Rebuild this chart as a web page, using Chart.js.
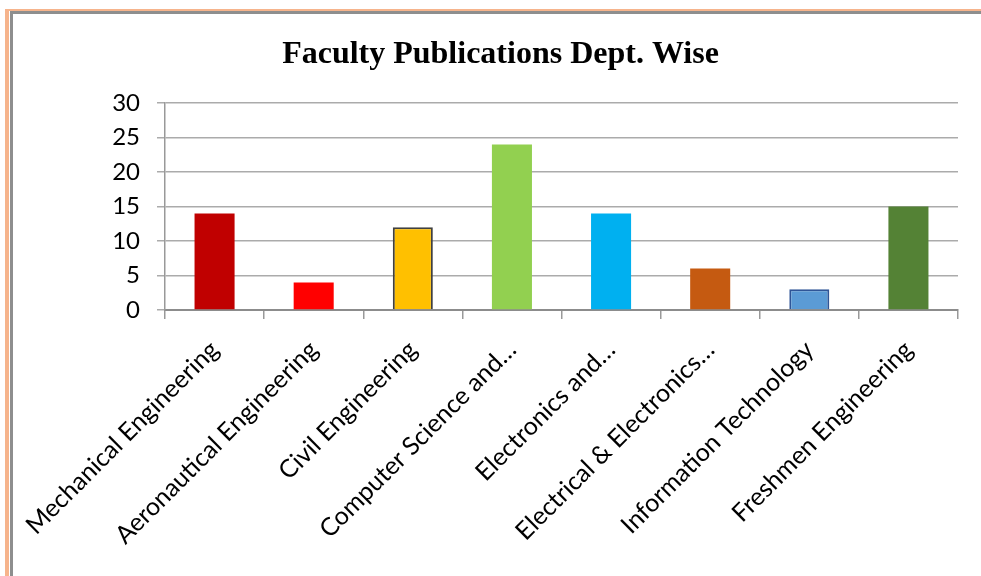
<!DOCTYPE html>
<html>
<head>
<meta charset="utf-8">
<script src="https://cdn.jsdelivr.net/npm/chart.js@4"></script>
<style>
  html, body { margin: 0; padding: 0; background: #fff; overflow: hidden; }
  #wrap { position: absolute; left: 0; top: 0; width: 981px; height: 576px; }
  #outer { position: absolute; left: 5px; top: 9px; width: 1100px; height: 700px; border-top: 2px solid #F6B48C; border-left: 4px solid #F6B48C; }
  #inner { position: absolute; left: 10px; top: 11px; width: 1100px; height: 700px; border-top: 3px solid #8E8E8E; border-left: 3px solid #8E8E8E; }
  canvas { position: absolute; left: 0; top: 0; }
</style>
</head>
<body>
<div id="wrap">
  <div id="outer"></div>
  <div id="inner"></div>
  <canvas id="c" width="981" height="576"></canvas>
</div>
<script>
const chartTitle = "Faculty Publications Dept. Wise";
const categories = [
  "Mechanical Engineering",
  "Aeronautical Engineering",
  "Civil Engineering",
  "Computer Science and…",
  "Electronics and…",
  "Electrical & Electronics…",
  "Information Technology",
  "Freshmen Engineering"
];
const publications = [14, 4, 12, 24, 14, 6, 3, 15];
const barColors = ["#C00000", "#FF0000", "#FFC000", "#92D050", "#00B0F0", "#C55A11", "#5B9BD5", "#548235"];
const barBorderColors = ["#C00000", "#FF0000", "#404040", "#92D050", "#00B0F0", "#C55A11", "#2F5597", "#548235"];
const barBorderWidths = [0, 0, 2, 0, 0, 0, 2, 0];
const yTicks = { min: 0, max: 30, step: 5 };

Chart.defaults.animation = false;

new Chart(document.getElementById('c'), {
  type: 'bar',
  data: {
    labels: categories,
    datasets: [{
      data: publications,
      backgroundColor: barColors,
      borderColor: barBorderColors,
      borderWidth: barBorderWidths,
      borderSkipped: 'start',
      categoryPercentage: 1,
      barPercentage: 0.404
    }]
  },
  options: {
    responsive: false,
    animation: false,
    layout: { padding: { left: 43, right: 23, top: 0, bottom: 0 } },
    plugins: {
      legend: { display: false },
      tooltip: { enabled: false },
      title: {
        display: true,
        text: chartTitle,
        color: '#000',
        font: { family: 'Liberation Serif', size: 32, weight: 'bold', lineHeight: 1.2 },
        padding: { top: 36, bottom: 28.6 }
      }
    },
    scales: {
      x: {
        afterFit: (s) => { s.height = 266; },
        grid: { offset: true, drawOnChartArea: false, drawTicks: true, tickLength: 9, color: '#999999', lineWidth: 1.5 },
        border: { display: true, color: '#8C8C8C', width: 2 },
        ticks: {
          autoSkip: false, maxRotation: 45, minRotation: 45,
          color: '#000', padding: 16,
          font: { family: 'Lato', size: 25 }
        }
      },
      y: {
        min: yTicks.min, max: yTicks.max,
        afterFit: (s) => { s.width = 122; },
        grid: { color: '#ABABAB', lineWidth: 1.5, tickLength: 8 },
        border: { display: true, color: '#999999', width: 1.5 },
        ticks: {
          stepSize: yTicks.step, color: '#000', padding: 17,
          font: { family: 'Lato', size: 24 }
        }
      }
    }
  }
});
</script>
</body>
</html>
